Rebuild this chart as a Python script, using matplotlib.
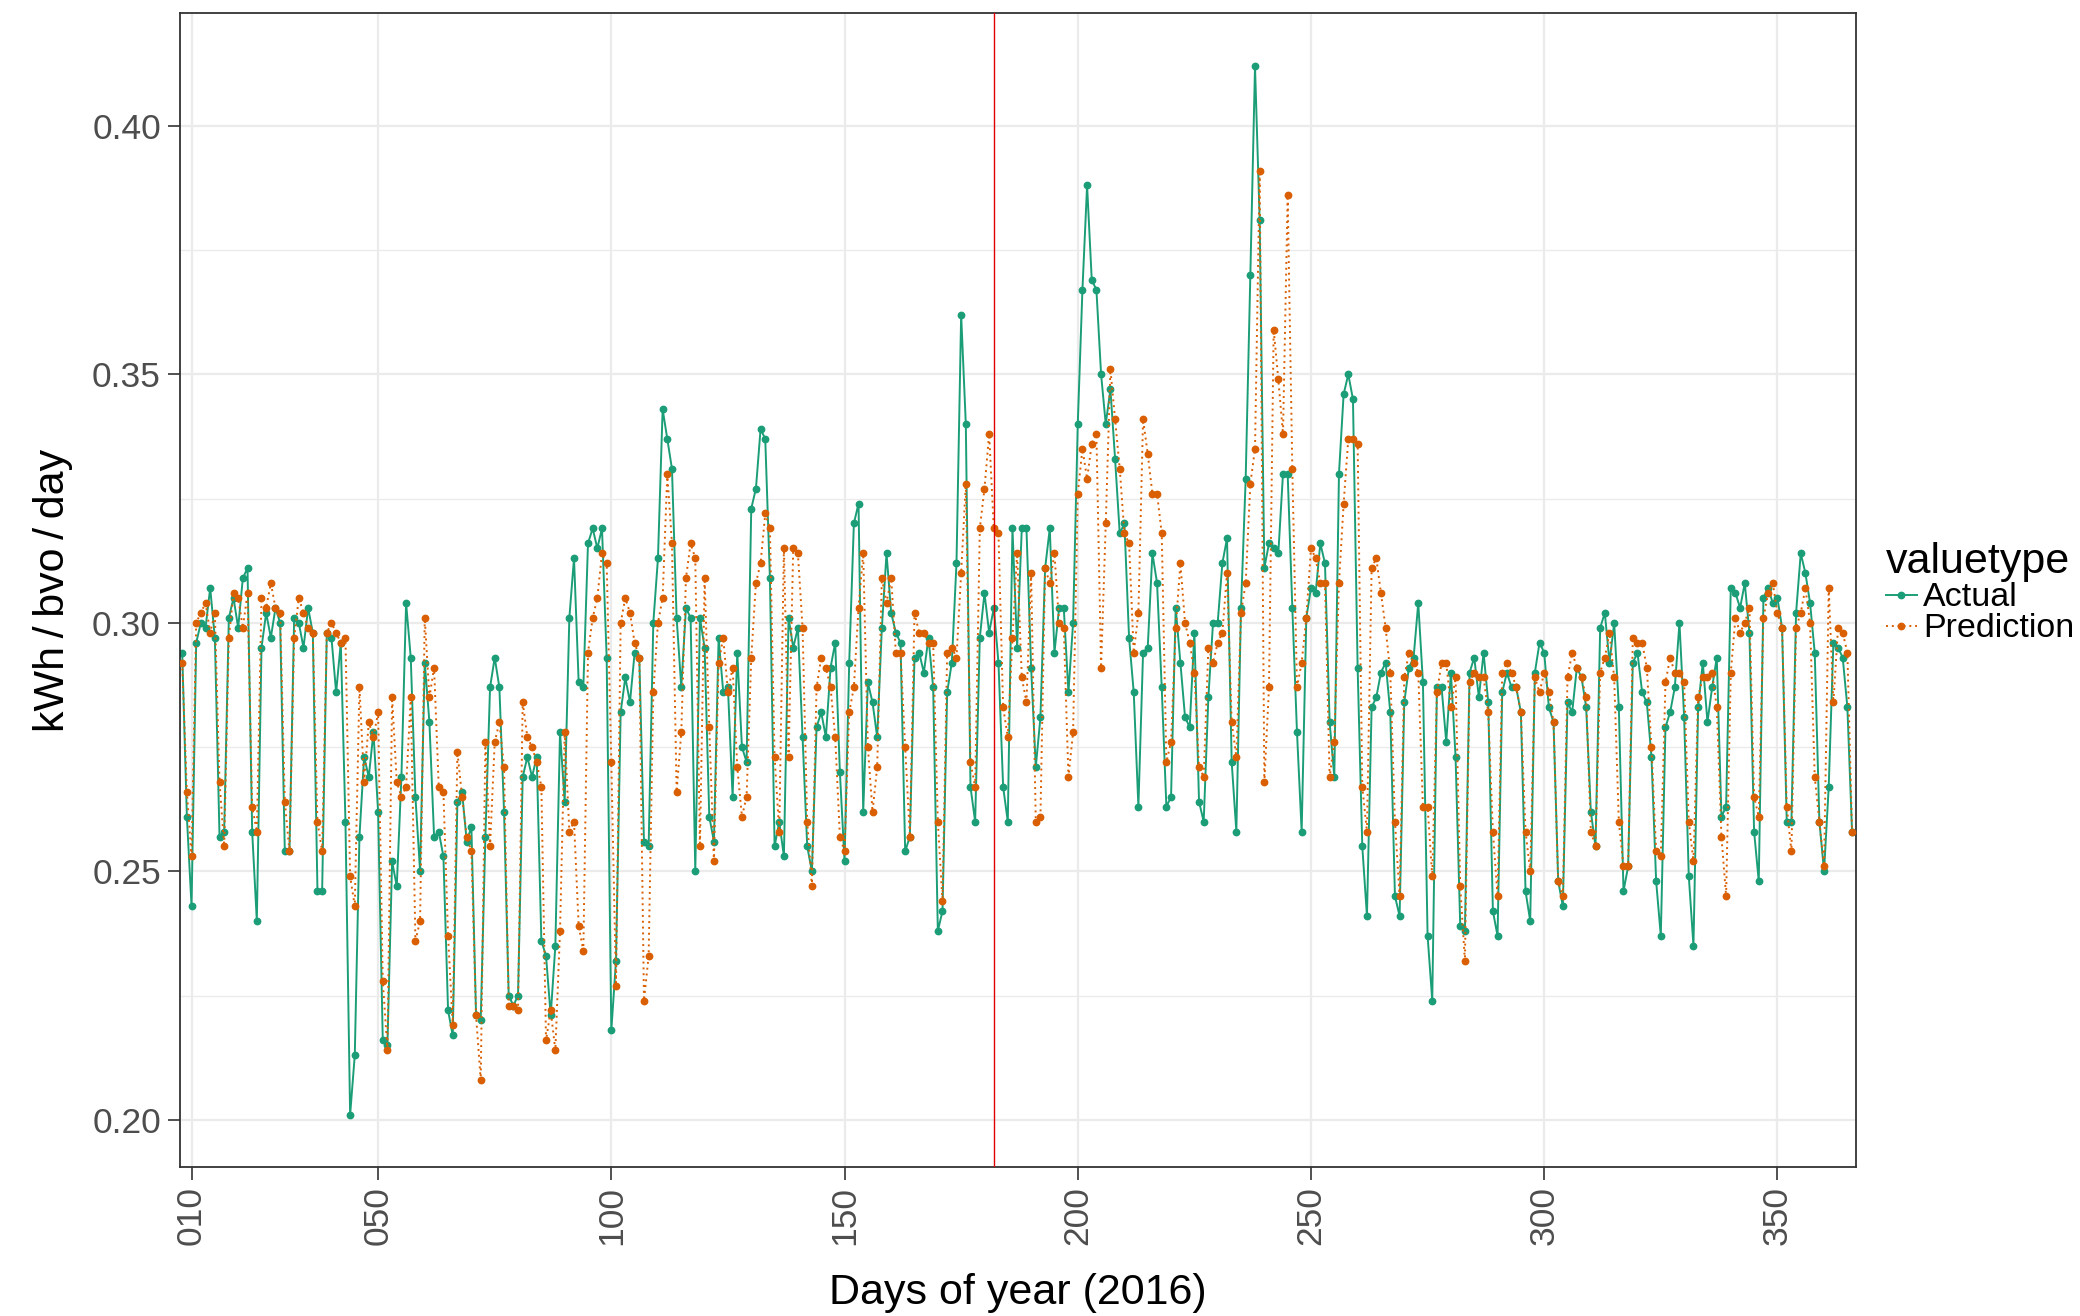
import matplotlib
matplotlib.use("Agg")
import matplotlib.pyplot as plt
from matplotlib.lines import Line2D

# day of year 2016, from day 8 to day 366
days = list(range(8, 367))

actual = [
    .294, .261, .243, .296, .300, .299, .307, .297, .257, .258,
    .301, .305, .299, .309, .311, .258, .240, .295, .302, .297,
    .303, .300, .254, .254, .301, .300, .295, .303, .298, .246,
    .246, .298, .297, .286, .296, .260, .201, .213, .257, .273,
    .269, .278, .262, .216, .215, .252, .247, .269, .304, .293,
    .265, .250, .292, .280, .257, .258, .253, .222, .217, .264,
    .266, .256, .259, .221, .220, .257, .287, .293, .287, .262,
    .225, .223, .225, .269, .273, .269, .273, .236, .233, .221,
    .235, .278, .264, .301, .313, .288, .287, .316, .319, .315,
    .319, .293, .218, .232, .282, .289, .284, .294, .293, .256,
    .255, .300, .313, .343, .337, .331, .301, .287, .303, .301,
    .250, .301, .295, .261, .256, .297, .286, .287, .265, .294,
    .275, .272, .323, .327, .339, .337, .309, .255, .260, .253,
    .301, .295, .299, .277, .255, .250, .279, .282, .277, .291,
    .296, .270, .252, .292, .320, .324, .262, .288, .284, .277,
    .299, .314, .302, .298, .296, .254, .257, .293, .294, .290,
    .297, .287, .238, .242, .286, .292, .312, .362, .340, .267,
    .260, .297, .306, .298, .303, .292, .267, .260, .319, .295,
    .319, .319, .291, .271, .281, .311, .319, .294, .303, .303,
    .286, .300, .340, .367, .388, .369, .367, .350, .340, .347,
    .333, .318, .320, .297, .286, .263, .294, .295, .314, .308,
    .287, .263, .265, .303, .292, .281, .279, .298, .264, .260,
    .285, .300, .300, .312, .317, .272, .258, .303, .329, .370,
    .412, .381, .311, .316, .315, .314, .330, .330, .303, .278,
    .258, .301, .307, .306, .316, .312, .280, .269, .330, .346,
    .350, .345, .291, .255, .241, .283, .285, .290, .292, .282,
    .245, .241, .284, .291, .293, .304, .288, .237, .224, .287,
    .287, .276, .290, .273, .239, .238, .290, .293, .285, .294,
    .284, .242, .237, .286, .290, .287, .287, .282, .246, .240,
    .290, .296, .294, .283, .280, .248, .243, .284, .282, .291,
    .289, .283, .262, .255, .299, .302, .292, .300, .283, .246,
    .251, .292, .294, .286, .284, .273, .248, .237, .279, .282,
    .287, .300, .281, .249, .235, .283, .292, .280, .287, .293,
    .261, .263, .307, .306, .303, .308, .298, .258, .248, .305,
    .307, .304, .305, .299, .260, .260, .302, .314, .310, .304,
    .294, .260, .250, .267, .296, .295, .293, .283, .258,
]

prediction = [
    .292, .266, .253, .300, .302, .304, .298, .302, .268, .255,
    .297, .306, .305, .299, .306, .263, .258, .305, .303, .308,
    .303, .302, .264, .254, .297, .305, .302, .299, .298, .260,
    .254, .298, .300, .298, .296, .297, .249, .243, .287, .268,
    .280, .277, .282, .228, .214, .285, .268, .265, .267, .285,
    .236, .240, .301, .285, .291, .267, .266, .237, .219, .274,
    .265, .257, .254, .221, .208, .276, .255, .276, .280, .271,
    .223, .223, .222, .284, .277, .275, .272, .267, .216, .222,
    .214, .238, .278, .258, .260, .239, .234, .294, .301, .305,
    .314, .312, .272, .227, .300, .305, .302, .296, .293, .224,
    .233, .286, .300, .305, .330, .316, .266, .278, .309, .316,
    .313, .255, .309, .279, .252, .292, .297, .286, .291, .271,
    .261, .265, .293, .308, .312, .322, .319, .273, .258, .315,
    .273, .315, .314, .299, .260, .247, .287, .293, .291, .287,
    .277, .257, .254, .282, .287, .303, .314, .275, .262, .271,
    .309, .304, .309, .294, .294, .275, .257, .302, .298, .298,
    .296, .296, .260, .244, .294, .295, .293, .310, .328, .272,
    .267, .319, .327, .338, .319, .318, .283, .277, .297, .314,
    .289, .284, .310, .260, .261, .311, .308, .314, .300, .299,
    .269, .278, .326, .335, .329, .336, .338, .291, .320, .351,
    .341, .331, .318, .316, .294, .302, .341, .334, .326, .326,
    .318, .272, .276, .299, .312, .300, .296, .290, .271, .269,
    .295, .292, .296, .298, .310, .280, .273, .302, .308, .328,
    .335, .391, .268, .287, .359, .349, .338, .386, .331, .287,
    .292, .301, .315, .313, .308, .308, .269, .276, .308, .324,
    .337, .337, .336, .267, .258, .311, .313, .306, .299, .290,
    .260, .245, .289, .294, .292, .290, .263, .263, .249, .286,
    .292, .292, .283, .289, .247, .232, .288, .290, .289, .289,
    .282, .258, .245, .290, .292, .290, .287, .282, .258, .250,
    .289, .286, .290, .286, .280, .248, .245, .289, .294, .291,
    .289, .285, .258, .255, .290, .293, .298, .289, .260, .251,
    .251, .297, .296, .296, .291, .275, .254, .253, .288, .293,
    .290, .290, .288, .260, .252, .285, .289, .289, .290, .283,
    .257, .245, .290, .301, .298, .300, .303, .265, .261, .301,
    .306, .308, .302, .299, .263, .254, .299, .302, .307, .300,
    .269, .260, .251, .307, .284, .299, .298, .294, .258,
]

x_ticks = [10, 50, 100, 150, 200, 250, 300, 350]
x_tick_labels = ["010", "050", "100", "150", "200", "250", "300", "350"]
y_ticks = [0.20, 0.25, 0.30, 0.35, 0.40]
y_minor = [0.225, 0.275, 0.325, 0.375]
split_day = 182

green = "#1B9E77"
orange = "#D95F02"

plt.rcParams['font.family'] = ['Liberation Sans', 'DejaVu Sans']

fig = plt.figure(figsize=(20.8, 13.16), dpi=100)
ax = fig.add_axes([0.0867, 0.1132, 0.8055, 0.8769])

# grid like theme_bw
for y in y_ticks:
    ax.axhline(y, color="#EBEBEB", lw=1.6, zorder=0)
for y in y_minor:
    ax.axhline(y, color="#EBEBEB", lw=1.0, zorder=0)
for x in x_ticks:
    ax.axvline(x, color="#EBEBEB", lw=1.6, zorder=0)

ax.plot(days, actual, color=green, lw=1.4, marker="o", ms=4.6, zorder=2)
ax.plot(days, prediction, color=orange, lw=1.4, linestyle=(0, (1, 2)),
        marker="o", ms=4.6, zorder=3)

ax.axvline(split_day, color="#E00000", lw=1.0, zorder=4)

ax.set_xlim(7.6, 366.8)
ax.set_ylim(0.1905, 0.4227)

ax.set_xticks(x_ticks)
ax.set_xticklabels(x_tick_labels, rotation=90)
ax.set_yticks(y_ticks)
ax.set_yticklabels(["%.2f" % v for v in y_ticks])
ax.tick_params(axis="both", labelsize=25.5, colors="#333333", length=9, width=1.2,
               labelcolor="#4D4D4D", pad=5)

for s in ax.spines.values():
    s.set_color("#333333")
    s.set_linewidth(1.3)

ax.set_xlabel("Days of year (2016)", fontsize=31, labelpad=20)
ax.set_ylabel("kWh\u2009/\u2009bvo\u2009/\u2009day", fontsize=31, labelpad=14)

handles = [
    Line2D([], [], color=green, lw=1.4, marker="o", ms=4.6),
    Line2D([], [], color=orange, lw=1.4, linestyle=(0, (1, 2)), marker="o", ms=4.6),
]
leg = ax.legend(handles, ["Actual", "Prediction"], title="valuetype",
                loc="center left", bbox_to_anchor=(1.018, 0.497),
                frameon=False, fontsize=24.5, title_fontsize=31,
                handlelength=0.9, handletextpad=0.2, labelspacing=0.0,
                borderaxespad=0, borderpad=0, alignment="left")

fig.savefig("out.png", dpi=100)
